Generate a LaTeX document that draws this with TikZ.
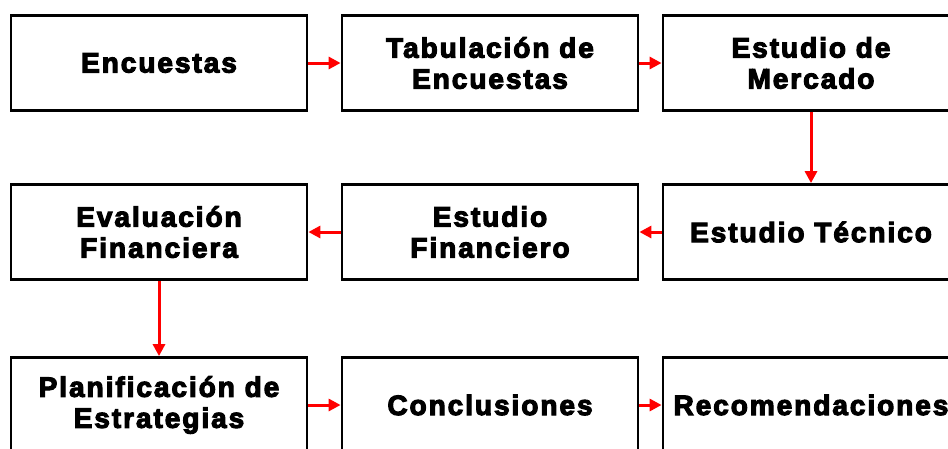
\documentclass[tikz,border=0pt]{standalone}
\usepackage{fontspec}
\newfontfamily\boxfont{Liberation Sans}[LetterSpace=7,FakeBold=4]
\tikzset{
  stage/.style={draw=black,line width=2.8pt,fill=white,minimum width=296pt,minimum height=95pt,
    align=center,font=\boxfont\bfseries\fontsize{28}{31}\selectfont,inner sep=0pt},
  flow/.style={-{Triangle[length=12pt,width=12pt]},red,line width=3pt}
}
\usetikzlibrary{arrows.meta}
\begin{document}
\begin{tikzpicture}[x=1pt,y=-1pt]
\useasboundingbox (0,0) rectangle (948,448);

\node[stage] (enc) at (159,63) {Encuestas};
\node[stage] (tab) at (490,63) {Tabulación de\\Encuestas};
\node[stage] (mer) at (811,63) {Estudio de\\Mercado};

\node[stage] (eva) at (159,232) {Evaluación\\Financiera};
\node[stage] (fin) at (490,232) {Estudio\\Financiero};
\node[stage] (tec) at (811,232) {Estudio Técnico};

\node[stage] (pla) at (159,405) {Planificación de\\Estrategias};
\node[stage] (con) at (490,405) {Conclusiones};
\node[stage] (rec) at (811,405) {Recomendaciones};

\draw[flow] (enc) -- (tab);
\draw[flow] (tab) -- (mer);
\draw[flow] (mer) -- (tec);
\draw[flow] (tec) -- (fin);
\draw[flow] (fin) -- (eva);
\draw[flow] (eva) -- (pla);
\draw[flow] (pla) -- (con);
\draw[flow] (con) -- (rec);

\end{tikzpicture}
\end{document}
